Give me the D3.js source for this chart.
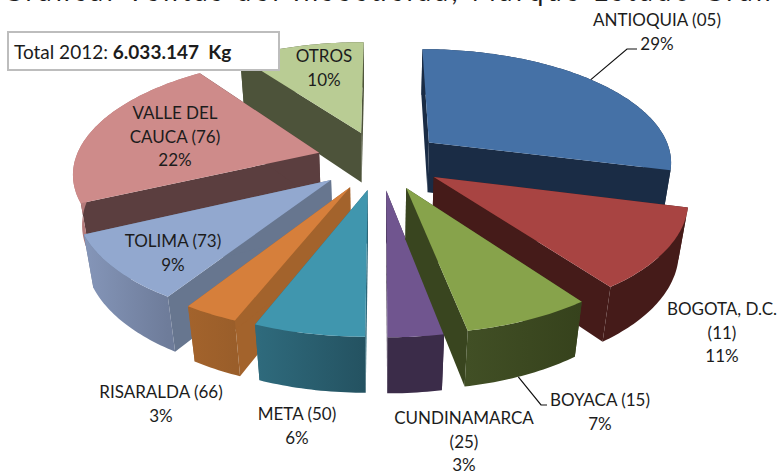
<!DOCTYPE html>
<html><head><meta charset="utf-8">
<script src="https://cdn.jsdelivr.net/npm/d3@7"></script>
<style>html,body{margin:0;padding:0;background:#fff;overflow:hidden}svg{display:block}text{font-family:Lato,"Open Sans",sans-serif;fill:#1c1c1c}</style>
</head><body><div id="c"></div>
<script>
const categories=["ANTIOQUIA (05)","BOGOTA, D.C. (11)","BOYACA (15)","CUNDINAMARCA (25)","META (50)","RISARALDA (66)","TOLIMA (73)","VALLE DEL CAUCA (76)","OTROS"];
const shares=[29,11,7,3,6,3,9,22,10];
const labelLines=[["ANTIOQUIA (05)","29%"],["BOGOTA, D.C.","(11)","11%"],["BOYACA (15)","7%"],["CUNDINAMARCA","(25)","3%"],["META (50)","6%"],["RISARALDA (66)","3%"],["TOLIMA (73)","9%"],["VALLE DEL","CAUCA (76)","22%"],["OTROS","10%"]];
const titleText="Grafica: Ventas del Insecticida, Marque Estado Granel";
const totalLabel="Total 2012: ";
const totalValue="6.033.147  Kg";

const topColors=["#4571a6","#a84442","#87a34b","#70558f","#4096ae","#d67f3b","#92a8cf","#ce8b8a","#b9cc94"];
const wallColors=["#1a2c45","#451b19","#39451f","#3b2c49","#2c6678","#a3632c","#67768f","#5b3e3f","#4d533a"];
const rimStart=["#1a2c45","#451b19","#36421c","#3b2c49","#245261","#9a5e2a","#6e7c9a","#b57a7a","#4d533a"];
const rimEnd=["#1a2c45","#451b19","#414f25","#3b2c49","#2f6b7d","#a3632c","#8596b9","#b57a7a","#4d533a"];
const drawOrder=[8,7,0,1,6,5,4,3,2];
const labelCenters=[[657,26],[722,315],[600,406],[464,424],[297,420],[161,398],[173,247],[175,119],[324,62]];
const lineStep=23.5, explode=0.26, cx=380, cy=160, Rx=244, Ry=113, persp=0.157, depth=52, shrink=0.03;

const W=777,H=472;
const svg=d3.select("#c").append("svg").attr("width",W).attr("height",H);
const defs=svg.append("defs");

// perspective projection of a point on the unit pie plane, z=0 top face, z=1 bottom face
function proj(X,Y,z){const w=1+persp*Y+shrink*z;return [cx+Rx*X/w,cy+(-Ry*Y+depth*z)/w];}
const pie=d3.pie().sort(null).value(d=>d)(shares);
const line=d3.line();
const deg=Math.PI/180;
function rimPoint(p,t,z){const m=(p.startAngle+p.endAngle)/2;return proj(explode*Math.sin(m)+Math.sin(t),explode*Math.cos(m)+Math.cos(t),z);}
function apex(p,z){const m=(p.startAngle+p.endAngle)/2;return proj(explode*Math.sin(m),explode*Math.cos(m),z);}

drawOrder.forEach(i=>{
  const p=pie[i],g=svg.append("g");
  const n=Math.max(8,Math.round((p.endAngle-p.startAngle)/deg));
  const ts=d3.range(n+1).map(k=>p.startAngle+(p.endAngle-p.startAngle)*k/n);
  // radial walls
  [p.startAngle,p.endAngle].forEach(t=>{
    const pts=[apex(p,0),rimPoint(p,t,0),rimPoint(p,t,1),apex(p,1)];
    g.append("path").attr("d",line(pts)+"Z").attr("fill",wallColors[i]);
  });
  // outer rim with a horizontal gradient
  const a=rimPoint(p,p.startAngle,0),b=rimPoint(p,p.endAngle,0);
  const gr=defs.append("linearGradient").attr("id","rim"+i).attr("gradientUnits","userSpaceOnUse")
    .attr("x1",a[0]).attr("y1",0).attr("x2",b[0]).attr("y2",0);
  gr.append("stop").attr("offset",0).attr("stop-color",rimStart[i]);
  gr.append("stop").attr("offset",1).attr("stop-color",rimEnd[i]);
  const rimPts=[...ts.map(t=>rimPoint(p,t,0)),...ts.slice().reverse().map(t=>rimPoint(p,t,1))];
  g.append("path").attr("d",line(rimPts)+"Z").attr("fill",`url(#rim${i})`);
  // top face
  const topPts=[apex(p,0),...ts.map(t=>rimPoint(p,t,0))];
  g.append("path").attr("d",line(topPts)+"Z").attr("fill",topColors[i]);
});

// title cut by the top edge of the picture, as in the reference
svg.append("text").attr("x",3).attr("y",0.8).attr("font-size",26).attr("textLength",795).text(titleText);

// total box
svg.append("rect").attr("x",8).attr("y",32).attr("width",271).attr("height",38).attr("fill","#fff").attr("stroke","#bdbdbd").attr("stroke-width",2);
const tb=svg.append("text").attr("x",14).attr("y",59).attr("font-size",19);
tb.append("tspan").text(totalLabel);
tb.append("tspan").attr("font-weight","bold").style("white-space","pre").text(totalValue);

// leader lines
const lead=d3.line().curve(d3.curveLinear);
const pA=pie[0],pB=pie[2];
svg.append("path").attr("fill","none").attr("stroke","#111").attr("stroke-width",1.2)
  .attr("d",lead([rimPoint(pA,pA.startAngle+0.48*(pA.endAngle-pA.startAngle),0),[627,49],[637,49]]));
svg.append("path").attr("fill","none").attr("stroke","#111").attr("stroke-width",1.2)
  .attr("d",lead([rimPoint(pB,pB.startAngle+0.55*(pB.endAngle-pB.startAngle),1),[541,405],[547,405]]));

// data labels
labelLines.forEach((ls,i)=>{
  const [x,y]=labelCenters[i];
  ls.forEach((s,j)=>svg.append("text").attr("x",x).attr("y",y+j*lineStep).attr("text-anchor","middle").attr("font-size",17).text(s));
});
</script></body></html>
